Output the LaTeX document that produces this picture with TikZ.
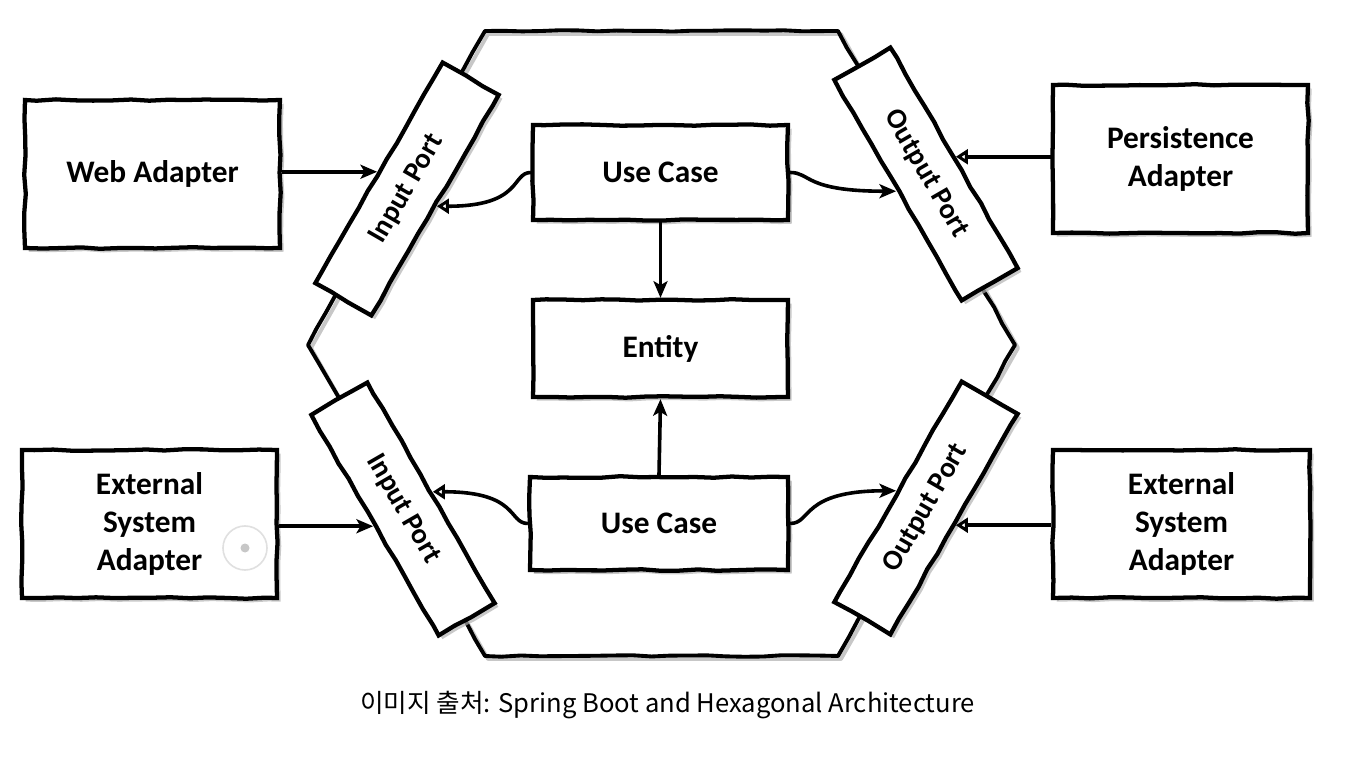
\documentclass[tikz,border=0pt]{standalone}
\usepackage{fontspec}
\setmainfont{Carlito}
\newfontfamily\krfont{Noto Sans CJK KR}
\usetikzlibrary{arrows.meta,shadows,decorations.pathmorphing}
\pgfmathsetseed{7}
\begin{document}
\begin{tikzpicture}[x=0.75pt,y=-0.75pt,
  wob/.style={decorate,decoration={random steps,segment length=14pt,amplitude=0.6pt}},
  shad/.style={drop shadow={shadow xshift=2.8pt,shadow yshift=-2.8pt,fill=black!30,opacity=0.7}},
  box/.style={draw,line width=3.2pt,fill=white,wob,shad,align=center,inner sep=0pt,
    font=\bfseries\fontsize{23.5}{28.5}\selectfont},
  portbox/.style={box,minimum width=191pt,minimum height=48.5pt,
    font=\bfseries\fontsize{21.5}{26}\selectfont},
  conn/.style={line width=2.7pt},
  fl/.style={conn,-{Stealth[length=12.5pt,width=10.5pt,inset=3pt]}},
  op/.style={conn,-{Triangle[open,length=9pt,width=11pt]}},
  hexline/.style={line width=2.9pt,line join=round}
]
\useasboundingbox (0,0) rectangle (1350,780);
% hexagon (with shadow)
\draw[hexline,black!22,shift={(3,3)}] (485,31) -- (838,31) -- (1015,345) -- (838,656) -- (485,656) -- (308,345) -- cycle;
\draw[hexline,wob] (485,31) -- (838,31) -- (1015,345) -- (838,656) -- (485,656) -- (308,345) -- cycle;

% outer adapters
\node[box,minimum width=191.25pt,minimum height=111pt] (web) at (152.5,174) {Web Adapter};
\node[box,minimum width=191.25pt,minimum height=111pt] (pers) at (1180.5,159) {Persistence\\Adapter};
\node[box,minimum width=191.25pt,minimum height=111pt] (extL) at (149.5,524) {External\\System\\Adapter};
\node[box,minimum width=192.75pt,minimum height=111pt] (extR) at (1181.5,524) {External\\System\\Adapter};

% core
\node[box,minimum width=191.25pt,minimum height=71.25pt] (uc1) at (660.5,172.5) {Use Case};
\node[box,minimum width=191.25pt,minimum height=72.75pt] (ent) at (660.5,348.5) {Entity};
\node[box,minimum width=193.5pt,minimum height=69.75pt] (uc2) at (659,523.5) {Use Case};

% ports
\node[portbox,rotate=60] (ip1) at (407,189) {Input Port};
\node[portbox,rotate=-60] (op1) at (926,174) {Output Port};
\node[portbox,rotate=-60] (ip2) at (403,509) {Input Port};
\node[portbox,rotate=60] (op2) at (926,508) {Output Port};

% connectors
\draw[fl] (web.east |- ip1.north) -- (ip1.north);
\draw[op] (pers.west |- op1.north) -- (op1.north);
\draw[fl] (extL.east |- ip2.south) -- (ip2.south);
\draw[op] (extR.west |- op2.south) -- (op2.south);
\draw[fl] (uc1.south) -- (ent.north);
\draw[fl] (uc2.north) -- (ent.south);
\draw[op] (uc1.west) to[out=180,in=0,out looseness=0.5,in looseness=2.2] (ip1.south);
\draw[fl] (uc1.east) to[out=0,in=180,out looseness=0.5,in looseness=2.2] (op1.south);
\draw[op] (uc2.west) to[out=180,in=0,out looseness=0.5,in looseness=2.2] (ip2.north);
\draw[fl] (uc2.east) to[out=0,in=180,out looseness=0.5,in looseness=2.2] (op2.north);

% overlay icon
\node[circle,draw=black!12,line width=1.2pt,minimum size=33pt,inner sep=0pt] (icon) at (245,548) {};
\fill[black!22] (icon.center) circle[radius=4.5];

% caption
\node[font=\krfont\fontsize{19.2}{24}\selectfont,anchor=center] (cap) at (667.5,705) {이미지 출처: Spring Boot and Hexagonal Architecture};
\end{tikzpicture}
\end{document}
